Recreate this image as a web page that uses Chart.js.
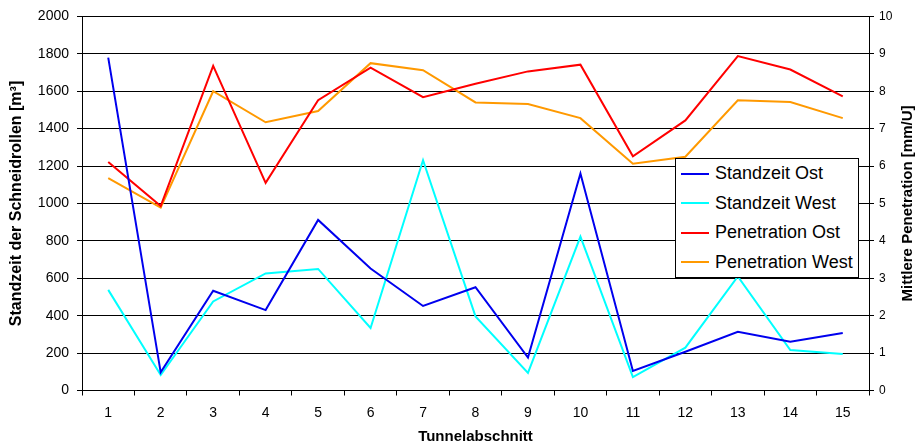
<!DOCTYPE html>
<html>
<head>
<meta charset="utf-8">
<script src="https://cdn.jsdelivr.net/npm/chart.js@4/dist/chart.umd.min.js"></script>
<style>
  body { margin: 0; background: #fff; }
  #wrap { position: relative; width: 920px; height: 448px; }
  #legend {
    position: absolute; left: 675px; top: 158px; width: 184px; height: 120px;
    box-sizing: border-box; border: 1px solid #000; background: #fff;
    font: 18px "Liberation Sans", Arial, sans-serif; color: #000;
  }
  .item { display: flex; align-items: center; height: 29.5px; white-space: nowrap; }
  .swatch { width: 28px; height: 2px; margin: 0 6px 0 5px; }
</style>
</head>
<body>
<div id="wrap">
  <canvas id="chart" width="920" height="448"></canvas>
  <div id="legend"></div>
</div>
<script>
const sections = ["1", "2", "3", "4", "5", "6", "7", "8", "9", "10", "11", "12", "13", "14", "15"];

// Standzeit der Schneidrollen [m³] (linke Achse)
const standzeitOst = [1780, 97, 533, 430, 912, 652, 452, 552, 176, 1160, 104, 207, 314, 261, 307];
const standzeitWest = [538, 83, 476, 626, 650, 334, 1231, 396, 94, 823, 72, 229, 610, 216, 195];

// Mittlere Penetration [mm/U] (rechte Achse)
const penetrationOst = [6.11, 4.93, 8.68, 5.55, 7.76, 8.63, 7.84, 8.2, 8.53, 8.71, 6.26, 7.22, 8.94, 8.58, 7.86];
const penetrationWest = [5.68, 4.89, 8.0, 7.17, 7.47, 8.75, 8.56, 7.7, 7.66, 7.28, 6.06, 6.25, 7.76, 7.71, 7.28];

const leftMax = 2000, leftStep = 200;
const rightMax = 10, rightStep = 1;
const rightTitleText = "Mittlere Penetration [mm/U]";

Chart.defaults.font.family = '"Liberation Sans", Arial, sans-serif';
Chart.defaults.color = "#000";

const line = (label, data, color, axis) => ({
  label: label,
  data: data,
  yAxisID: axis,
  borderColor: color,
  backgroundColor: color,
  borderWidth: 2,
  pointRadius: 0,
  tension: 0,
  fill: false,
});

// rechter Achsentitel liest wie in Excel von unten nach oben
const rightTitle = {
  id: "rightTitle",
  afterDraw(c) {
    const s = c.scales.y2;
    const ctx = c.ctx;
    ctx.save();
    ctx.translate(s.right - 12, (c.chartArea.top + c.chartArea.bottom) / 2);
    ctx.rotate(-Math.PI / 2);
    ctx.font = 'bold 15px "Liberation Sans", Arial, sans-serif';
    ctx.fillStyle = "#000";
    ctx.textAlign = "center";
    ctx.textBaseline = "middle";
    ctx.fillText(rightTitleText, 0, 0);
    ctx.restore();
  },
};

const chart = new Chart(document.getElementById("chart"), {
  type: "line",
  data: {
    labels: sections,
    datasets: [
      line("Standzeit Ost", standzeitOst, "#0000ee", "y"),
      line("Standzeit West", standzeitWest, "#00ffff", "y"),
      line("Penetration Ost", penetrationOst, "#ff0000", "y2"),
      line("Penetration West", penetrationWest, "#ff9900", "y2"),
    ],
  },
  plugins: [rightTitle],
  options: {
    responsive: false,
    animation: false,
    devicePixelRatio: 1,
    layout: { padding: { top: 16, left: 0, right: 0, bottom: 0 } },
    plugins: { legend: { display: false }, tooltip: { enabled: false } },
    scales: {
      x: {
        offset: true,
        grid: { offset: true, drawOnChartArea: false, tickLength: 5, color: "#000" },
        border: { color: "#000" },
        ticks: { font: { size: 14 }, padding: 9, maxRotation: 0, autoSkip: false },
        title: {
          display: true,
          text: "Tunnelabschnitt",
          font: { size: 15, weight: "bold" },
          padding: { top: 0, bottom: 2 },
        },
        afterFit: (s) => { s.height = 57.5; },
      },
      y: {
        position: "left",
        min: 0,
        max: leftMax,
        ticks: { stepSize: leftStep, font: { size: 14 }, padding: 8, callback: (v) => String(v) },
        grid: { color: "#000", tickLength: 5 },
        border: { color: "#000" },
        title: {
          display: true,
          text: "Standzeit der Schneidrollen [m³]",
          font: { size: 16, weight: "bold" },
          padding: { top: 7, bottom: 0 },
        },
        afterFit: (s) => { s.width = 82; },
      },
      y2: {
        position: "right",
        min: 0,
        max: rightMax,
        ticks: { stepSize: rightStep, font: { size: 12 }, padding: 5 },
        grid: { drawOnChartArea: false, color: "#000", tickLength: 5 },
        border: { color: "#000" },
        afterFit: (s) => { s.width = 51; },
      },
    },
  },
});

// Legende als Kasten im Diagramm
const legend = document.getElementById("legend");
chart.data.datasets.forEach((ds) => {
  const row = document.createElement("div");
  row.className = "item";
  const sw = document.createElement("span");
  sw.className = "swatch";
  sw.style.background = ds.borderColor;
  const txt = document.createElement("span");
  txt.textContent = ds.label;
  row.appendChild(sw);
  row.appendChild(txt);
  legend.appendChild(row);
});
</script>
</body>
</html>
